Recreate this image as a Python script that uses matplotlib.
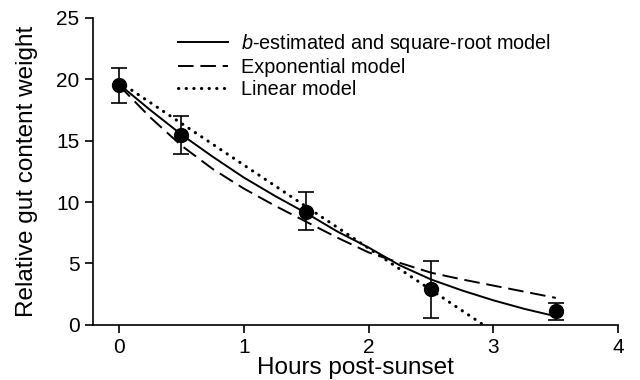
import numpy as np
import matplotlib
matplotlib.use("Agg")
import matplotlib.pyplot as plt

plt.rcParams['font.family'] = ['Liberation Sans', 'DejaVu Sans']
plt.rcParams['mathtext.fontset'] = 'custom'
plt.rcParams['mathtext.it'] = 'Liberation Sans:italic'
plt.rcParams['mathtext.rm'] = 'Liberation Sans'

# Observed means and error bars
hours = [0, 0.5, 1.5, 2.5, 3.5]
weight = [19.5, 15.5, 9.2, 2.9, 1.1]
err_low = [1.4, 1.6, 1.5, 2.3, 0.7]
err_high = [1.4, 1.5, 1.6, 2.3, 0.7]

# Model curves
t_model = [0, 0.25, 0.5, 0.75, 1.0, 1.25, 1.5, 1.75, 2.0, 2.25, 2.5, 2.75, 3.0, 3.25, 3.5]
sqrt_model = [19.6, 17.5, 15.5, 13.7, 12.0, 10.5, 9.1, 7.6, 6.3, 4.85, 3.7, 2.8, 2.0, 1.3, 0.7]
exp_model = [19.5, 16.9, 14.6, 12.7, 11.1, 9.7, 8.4, 7.1, 5.9, 5.05, 4.25, 3.7, 3.2, 2.7, 2.2]
t_linear = [0, 2.92]
linear_model = [19.8, 0]

fig = plt.figure(figsize=(6.4, 3.8), dpi=100)
ax = fig.add_axes([0.145, 0.145, 0.821, 0.808])

ax.plot(t_model, sqrt_model, color='black', lw=1.4, label=r'$\it{b}$-estimated and square-root model')
ax.plot(t_model, exp_model, color='black', lw=1.4, dashes=(8, 3.5), label='Exponential model')
ax.plot(t_linear, linear_model, color='black', lw=2.2, linestyle=(0, (0.1, 2.4)),
        dash_capstyle='round', label='Linear model')

ax.errorbar(hours, weight, yerr=[err_low, err_high], fmt='o', color='black',
            markersize=10, capsize=6, elinewidth=1.2, capthick=1.2, zorder=5)

ax.set_xlim(-0.21, 4)
ax.set_ylim(0, 25)
ax.set_xticks([0, 1, 2, 3, 4])
ax.set_yticks([0, 5, 10, 15, 20, 25])
ax.spines['top'].set_visible(False)
ax.spines['right'].set_visible(False)
ax.tick_params(labelsize=15, length=6, width=1.2, color='black')
for s in ['left', 'bottom']:
    ax.spines[s].set_linewidth(1.2)

ax.set_xlabel('Hours post-sunset', fontsize=17.5, labelpad=0)
ax.set_ylabel('Relative gut content weight', fontsize=17.5, labelpad=13)

ax.legend(loc='upper left', bbox_to_anchor=(0.162, 0.955), frameon=False,
          fontsize=14.3, handlelength=2.5, handletextpad=0.7, labelspacing=0.15,
          borderpad=0, borderaxespad=0)

fig.savefig('out.png', dpi=100)
